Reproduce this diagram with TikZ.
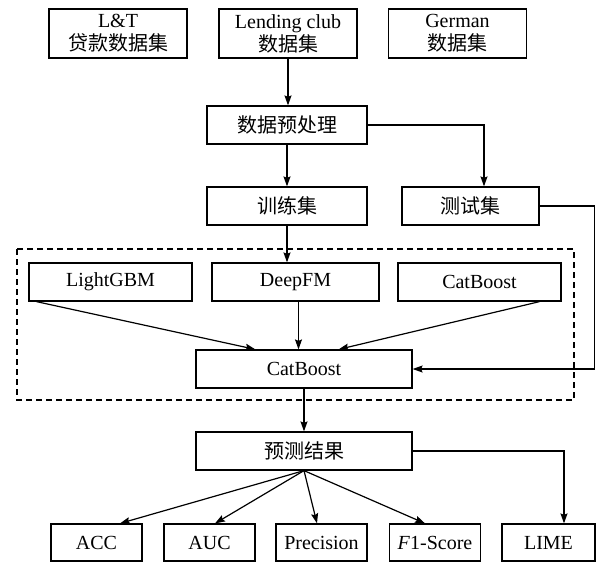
\documentclass[tikz,border=0pt]{standalone}
\usepackage{fontspec}
\setmainfont{Liberation Serif}
\newfontfamily\cjk{Noto Sans CJK SC}
\usetikzlibrary{arrows.meta}

\begin{document}
\begin{tikzpicture}[x=1pt,y=-1pt,line width=1.2pt,>={Stealth[length=10pt,width=7pt,inset=1.5pt]}]
      \useasboundingbox (0,0) rectangle (597,563);
      \tikzstyle{every node} = [draw, rectangle, inner sep = 0pt, align = center,
        font = \fontsize{20}{23}\selectfont, minimum height = 38pt]
      \node(lt) at (118,33.5) [minimum width = 138pt, minimum height = 49pt] {L\&T\\{\cjk 贷款数据集}};
      \node(lend) at (288,33.5) [minimum width = 138pt, minimum height = 49pt] {Lending club\\{\cjk 数据集}};
      \node(ger) at (457.5,33.5) [minimum width = 138pt, minimum height = 49pt] {German\\{\cjk 数据集}};
      \node(pre) at (287,125) [minimum width = 160pt] {\cjk 数据预处理};
      \node(train) at (287,206) [minimum width = 160pt] {\cjk 训练集};
      \node(test) at (470.5,206) [minimum width = 137pt] {\cjk 测试集};
      \node(lgb) at (110.5,282) [minimum width = 163pt] {LightGBM};
      \node(dfm) at (295.5,282) [minimum width = 167pt] {DeepFM};
      \node(cb1) at (479.5,282) [minimum width = 163pt] {CatBoost};
      \node(cb) at (304,369) [minimum width = 216pt] {CatBoost};
      \node(res) at (304,451) [minimum width = 216pt] {\cjk 预测结果};
      \node(acc) at (96.5,542.5) [minimum width = 91pt, minimum height = 37pt] {ACC};
      \node(auc) at (209.5,542.5) [minimum width = 91pt, minimum height = 37pt] {AUC};
      \node(prec) at (321.5,542.5) [minimum width = 91pt, minimum height = 37pt] {Precision};
      \node(f1) at (435,542.5) [minimum width = 91pt, minimum height = 37pt] {\textit{F}1-Score};
      \node(lime) at (548.5,542.5) [minimum width = 93pt, minimum height = 37pt] {LIME};

      \tikzstyle{every node} = []
      \tikzstyle{every edge} = [draw, line width = 1.2pt]
      \draw[dash pattern = on 6pt off 4pt] (17,249) rectangle (574,400);
      \path[->]
      (lend.south) edge (lend.south |- pre.north);
      \path[->]
      (pre) edge (train);
      \draw[->] (pre.east) -| ([xshift = 13.5pt]test.north);
      \path[->]
      (train.south) edge (train.south |- dfm.north);
      \draw[->] (test.east) -- ++(55,0) |- (cb.east);
      \path[->]
      ([xshift = 8pt]lgb.south west) edge ([xshift = 60pt]cb.north west);
      \path[->]
      ([xshift = 3pt]dfm.south) edge ([xshift = 3pt]dfm.south |- cb.north);
      \path[->]
      ([xshift = -22pt]cb1.south east) edge ([xshift = -74pt]cb.north east);
      \path[->]
      (cb) edge (res);
      \draw[->] (res.east) -| ([xshift = 15.5pt]lime.north);
      \path[->]
      (res.south) edge ([xshift = 23.5pt]acc.north);
      \path[->]
      (res.south) edge ([xshift = 5.5pt]auc.north);
      \path[->]
      (res.south) edge ([xshift = -4.5pt]prec.north);
      \path[->]
      (res.south) edge ([xshift = -10pt]f1.north);
    \end{tikzpicture}
\end{document}
